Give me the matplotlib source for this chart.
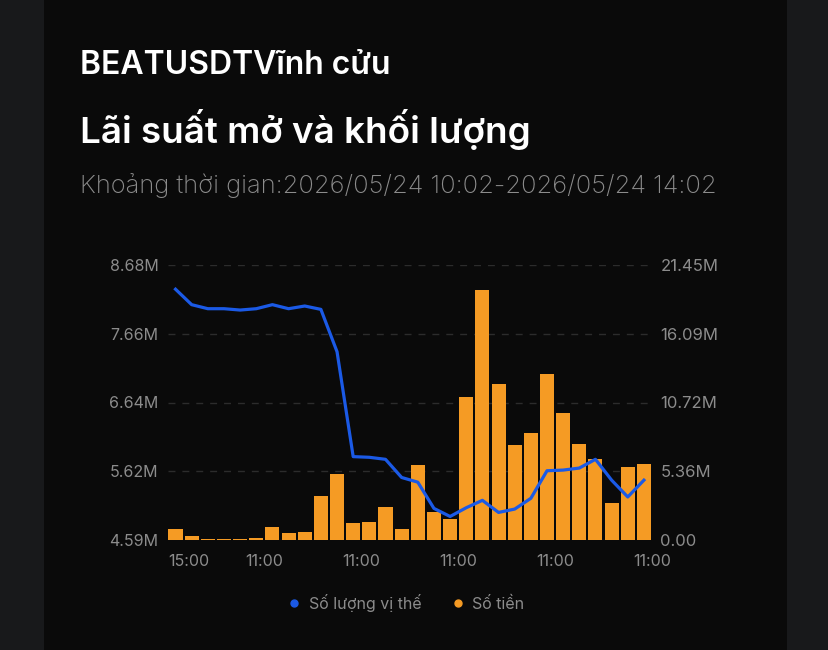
import matplotlib
matplotlib.use("Agg")
import matplotlib.pyplot as plt
from matplotlib.patches import Rectangle
from matplotlib.lines import Line2D

plt.rcParams['font.family'] = ['Inter', 'DejaVu Sans']

# open interest (left axis, M) and turnover (right axis, M), 30 buckets
open_interest = [8.32, 8.09, 8.03, 8.03, 8.01, 8.03, 8.09, 8.03, 8.07, 8.02,
                 7.39, 5.83, 5.82, 5.79, 5.52, 5.45, 5.06, 4.94, 5.07, 5.18,
                 5.00, 5.05, 5.21, 5.62, 5.63, 5.66, 5.79, 5.48, 5.23, 5.48]
turnover = [0.88, 0.34, 0.10, 0.05, 0.10, 0.16, 0.99, 0.52, 0.60, 3.43,
            5.15, 1.33, 1.40, 2.57, 0.88, 5.83, 2.18, 1.66, 11.18, 19.50,
            12.14, 7.41, 8.32, 12.93, 9.88, 7.49, 6.35, 2.91, 5.72, 5.90]
left_ticks = [4.59, 5.6125, 6.635, 7.6575, 8.68]
left_labels = ["4.59M", "5.62M", "6.64M", "7.66M", "8.68M"]
right_ticks = [0, 5.3625, 10.725, 16.0875, 21.45]
right_labels = ["0.00", "5.36M", "10.72M", "16.09M", "21.45M"]
x_tick_labels = ["15:00", "11:00", "11:00", "11:00", "11:00", "11:00"]

title = "BEATUSDTVĩnh cửu"
subtitle = "Lãi suất mở và khối lượng"
period = "Khoảng thời gian:2026/05/24 10:02-2026/05/24 14:02"
legend_labels = ["Số lượng vị thế", "Số tiền"]

BLUE = "#1b5ae6"
ORANGE = "#f59b24"
GREY = "#8c8c8c"

W, H = 829, 650
fig = plt.figure(figsize=(W / 100, H / 100), dpi=100, facecolor="#18191b")
fig.patches.append(Rectangle((44 / W, 0), (787 - 44) / W, 1, transform=fig.transFigure,
                             facecolor="#0a0a0a", edgecolor="none", zorder=-5))

fig.text(80 / W, 1 - 66 / H, title, color="white", fontsize=23, fontweight="semibold", va="center")
fig.text(80 / W, 1 - 130 / H, subtitle, color="white", fontsize=26.5, fontweight="semibold", va="center")
fig.text(80 / W, 1 - 186 / H, period, color=GREY, fontsize=18.4, fontweight="light", va="center")

ax = fig.add_axes([168 / W, 110 / H, 484 / W, 275 / H])
ax2 = ax.twinx()
ax2.set_zorder(1)
ax.set_zorder(2)
ax.patch.set_visible(False)
ax2.patch.set_visible(False)

x = list(range(len(turnover)))
ax2.bar(x, turnover, width=0.87, color=ORANGE, zorder=2)
ax.plot(x, open_interest, color=BLUE, lw=2.3, solid_joinstyle="round", zorder=3)

ax.set_xlim(-0.465, 29.465)
ax.set_ylim(left_ticks[0], left_ticks[-1])
ax2.set_ylim(right_ticks[0], right_ticks[-1])
ax.set_yticks(left_ticks, left_labels)
ax2.set_yticks(right_ticks, right_labels)
for t in right_ticks:
    ax2.axhline(t, color="#2c2c2c", lw=1, dashes=(5, 5), zorder=1)

ax.set_xticks([-0.465, 5.5, 11.5, 17.5, 23.5, 29.5], x_tick_labels)
ax.get_xticklabels()[0].set_horizontalalignment("left")

for a in (ax, ax2):
    for s in a.spines.values():
        s.set_visible(False)
    a.tick_params(length=0, colors=GREY, labelsize=11.5)
ax.tick_params(axis="y", pad=7)
ax2.tick_params(axis="y", pad=6, labelsize=12)
ax.tick_params(axis="x", pad=10)

handles = [Line2D([], [], ls="none", marker="o", ms=5, color=c) for c in (BLUE, ORANGE)]
fig.legend(handles, legend_labels, loc="center", bbox_to_anchor=(407 / W, 1 - 603 / H),
           ncol=2, frameon=False, labelcolor=GREY, fontsize=11.5,
           handlelength=0.6, handletextpad=0.6, columnspacing=2.0)

fig.savefig("out.png", dpi=100, facecolor=fig.get_facecolor())
